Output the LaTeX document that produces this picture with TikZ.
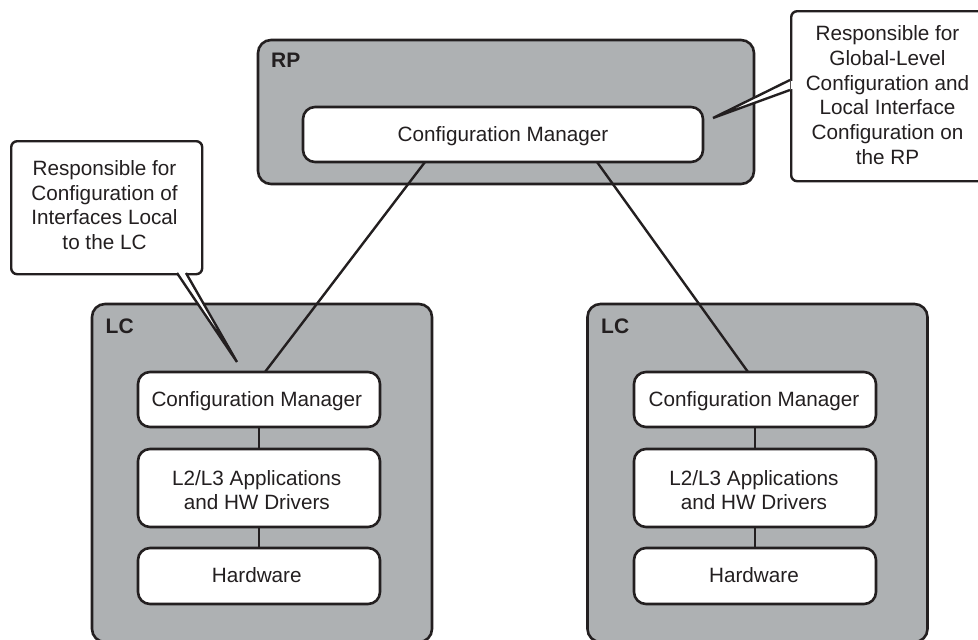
\documentclass[tikz,border=0pt]{standalone}
\usepackage{fontspec}
\setmainfont{Liberation Sans}
\definecolor{ink}{HTML}{231F20}
\definecolor{panel}{HTML}{AEB1B3}
\newcommand{\nudge}[3]{\raisebox{#2}[\height][\depth]{\kern#1\relax #3\kern-#1\relax}}
\tikzset{
  every node/.style={text=ink},
  txt/.style={font=\fontsize{20.7}{24.8}\selectfont, align=center, inner sep=0pt},
  tag/.style={font=\fontsize{21}{24}\selectfont\bfseries, inner sep=0pt, anchor=west},
  panelbox/.style={draw=ink, fill=panel, line width=2.6pt, rounded corners=13pt, inner sep=0pt},
  whitebox/.style={draw=ink, fill=white, line width=2.6pt, rounded corners=12pt, inner sep=0pt, txt},
  callout/.style={draw=ink, fill=white, line width=2.4pt, rounded corners=6pt, inner sep=0pt, txt},
  wire/.style={draw=ink, line width=2.4pt},
  tail/.style={draw=ink, fill=white, line width=2.4pt, line join=miter},
}
\newcommand{\lcstack}[4]{% prefix, x centre, panel centre, text nudge
  \node[panelbox, minimum width=340pt, minimum height=338pt] (#1panel) at (#3,473) {};
  \node[tag] (#1tag) at (#3-156.5,326) {LC};
  \node[whitebox, minimum width=242pt, minimum height=55pt] (#1cm) at (#2,399.5) {\nudge{#4pt}{-2pt}{Configuration Manager}};
  \node[whitebox, minimum width=242pt, minimum height=78pt] (#1app) at (#2,488) {\nudge{#4pt}{-2pt}{L2/L3 Applications}\\\nudge{#4pt}{-2pt}{and HW Drivers}};
  \node[whitebox, minimum width=242pt, minimum height=56pt] (#1hw) at (#2,576) {\nudge{#4pt}{1pt}{Hardware}};
  \draw[wire] (#1cm) -- (#1app);
  \draw[wire] (#1app) -- (#1hw);
}
\begin{document}
\begin{tikzpicture}[x=1pt,y=-1pt]
\useasboundingbox (0,0) rectangle (978,640);
\clip (0,0) rectangle (978,640);
\fill[white] (0,0) rectangle (978,640);

% RP
\node[panelbox, minimum width=496pt, minimum height=144pt] (rp) at (506,112) {};
\node[tag] (rptag) at (271,60.5) {RP};
\node[whitebox, minimum width=400pt, minimum height=55pt] (rpcm) at (503,134.5) {\nudge{0pt}{-2pt}{Configuration Manager}};

% LCs
\lcstack{a}{259}{262}{-2.2}
\lcstack{b}{755}{757.5}{-1}

% RP to LC links
\coordinate (rpl) at (425,162);
\coordinate (rpr) at (597,162);
\coordinate (al) at (265,372);
\coordinate (bl) at (748,372);
\draw[wire] (rpl) -- (al);
\draw[wire] (rpr) -- (bl);

% right callout
\node[callout, minimum width=260pt, minimum height=170pt, anchor=north west] (cr) at (790,10) {};
\node[txt] (crt) at (887.5,95) {Responsible for\\Global-Level\\Configuration and\\Local Interface\\Configuration on\\the RP};
\coordinate (crtip) at (713,118);
\coordinate (cra) at (790,80);
\coordinate (crb) at (790,90);
\fill[white] (cra) -- (crtip) -- (crb) -- cycle;
\draw[tail] (cra) -- (crtip) -- (crb);
\fill[white] (791.3,81) rectangle (793,89);

% left callout
\node[callout, minimum width=191pt, minimum height=133pt, anchor=north west] (cl) at (10,140) {};
\node[txt] (clt) at (104.5,205) {Responsible for\\Configuration of\\Interfaces Local\\to the LC};
\coordinate (cltip) at (237,362);
\coordinate (cla) at (177,273);
\coordinate (clb) at (186,273);
\fill[white] (cla) -- (cltip) -- (clb) -- cycle;
\draw[tail] (cla) -- (cltip) -- (clb);
\fill[white] (178.5,271.7) rectangle (184.5,273);
\end{tikzpicture}
\end{document}
